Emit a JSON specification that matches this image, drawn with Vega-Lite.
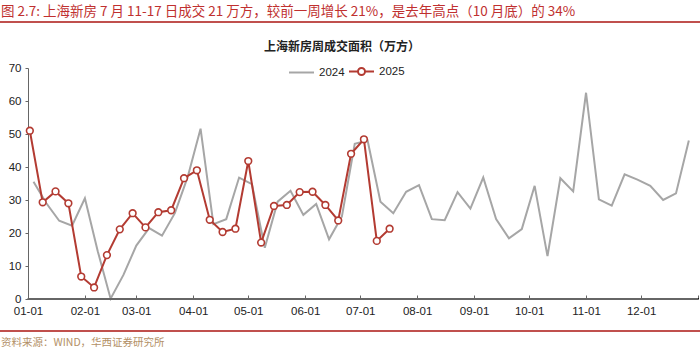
{
  "$schema": "https://vega.github.io/schema/vega-lite/v6.json",
  "padding": {"left": 0, "top": 3, "right": 0, "bottom": 0},
  "background": "white",
  "spacing": 13,
  "config": {
    "font": "Liberation Sans",
    "view": {"stroke": null},
    "title": {"font": "Noto Sans CJK SC"}
  },
  "datasets": {
    "weekly": [
      {"date": "2025-01-04", "series": "2024", "value": 35.5},
      {"date": "2025-01-11", "series": "2024", "value": 29.0},
      {"date": "2025-01-18", "series": "2024", "value": 23.7},
      {"date": "2025-01-25", "series": "2024", "value": 22.2},
      {"date": "2025-02-01", "series": "2024", "value": 30.5},
      {"date": "2025-02-08", "series": "2024", "value": 14.5},
      {"date": "2025-02-15", "series": "2024", "value": 0.1},
      {"date": "2025-02-22", "series": "2024", "value": 7.3},
      {"date": "2025-03-01", "series": "2024", "value": 16.2},
      {"date": "2025-03-08", "series": "2024", "value": 21.5},
      {"date": "2025-03-15", "series": "2024", "value": 19.2},
      {"date": "2025-03-22", "series": "2024", "value": 26.0},
      {"date": "2025-03-29", "series": "2024", "value": 37.0},
      {"date": "2025-04-05", "series": "2024", "value": 51.6},
      {"date": "2025-04-12", "series": "2024", "value": 22.7},
      {"date": "2025-04-19", "series": "2024", "value": 24.2},
      {"date": "2025-04-26", "series": "2024", "value": 36.8},
      {"date": "2025-05-03", "series": "2024", "value": 34.8},
      {"date": "2025-05-10", "series": "2024", "value": 15.5},
      {"date": "2025-05-17", "series": "2024", "value": 29.5},
      {"date": "2025-05-24", "series": "2024", "value": 32.8},
      {"date": "2025-05-31", "series": "2024", "value": 25.5},
      {"date": "2025-06-07", "series": "2024", "value": 28.8},
      {"date": "2025-06-14", "series": "2024", "value": 18.1},
      {"date": "2025-06-21", "series": "2024", "value": 25.0},
      {"date": "2025-06-28", "series": "2024", "value": 47.0},
      {"date": "2025-07-05", "series": "2024", "value": 48.0},
      {"date": "2025-07-12", "series": "2024", "value": 29.5},
      {"date": "2025-07-19", "series": "2024", "value": 26.0},
      {"date": "2025-07-26", "series": "2024", "value": 32.5},
      {"date": "2025-08-02", "series": "2024", "value": 34.5},
      {"date": "2025-08-09", "series": "2024", "value": 24.2},
      {"date": "2025-08-16", "series": "2024", "value": 23.9},
      {"date": "2025-08-23", "series": "2024", "value": 32.4},
      {"date": "2025-08-30", "series": "2024", "value": 27.4},
      {"date": "2025-09-06", "series": "2024", "value": 36.8},
      {"date": "2025-09-13", "series": "2024", "value": 24.2},
      {"date": "2025-09-20", "series": "2024", "value": 18.4},
      {"date": "2025-09-27", "series": "2024", "value": 21.2},
      {"date": "2025-10-04", "series": "2024", "value": 34.3},
      {"date": "2025-10-11", "series": "2024", "value": 13.0},
      {"date": "2025-10-18", "series": "2024", "value": 36.6},
      {"date": "2025-10-25", "series": "2024", "value": 32.6},
      {"date": "2025-11-01", "series": "2024", "value": 62.5},
      {"date": "2025-11-08", "series": "2024", "value": 30.2},
      {"date": "2025-11-15", "series": "2024", "value": 28.3},
      {"date": "2025-11-22", "series": "2024", "value": 37.8},
      {"date": "2025-11-29", "series": "2024", "value": 36.2},
      {"date": "2025-12-06", "series": "2024", "value": 34.3},
      {"date": "2025-12-13", "series": "2024", "value": 30.0},
      {"date": "2025-12-20", "series": "2024", "value": 32.0},
      {"date": "2025-12-27", "series": "2024", "value": 48.0},
      {"date": "2025-01-02", "series": "2025", "value": 51.0},
      {"date": "2025-01-09", "series": "2025", "value": 29.3},
      {"date": "2025-01-16", "series": "2025", "value": 32.6},
      {"date": "2025-01-23", "series": "2025", "value": 29.0},
      {"date": "2025-01-30", "series": "2025", "value": 6.8},
      {"date": "2025-02-06", "series": "2025", "value": 3.5},
      {"date": "2025-02-13", "series": "2025", "value": 13.3},
      {"date": "2025-02-20", "series": "2025", "value": 21.1},
      {"date": "2025-02-27", "series": "2025", "value": 26.0},
      {"date": "2025-03-06", "series": "2025", "value": 21.7},
      {"date": "2025-03-13", "series": "2025", "value": 26.3},
      {"date": "2025-03-20", "series": "2025", "value": 26.9},
      {"date": "2025-03-27", "series": "2025", "value": 36.6},
      {"date": "2025-04-03", "series": "2025", "value": 39.0},
      {"date": "2025-04-10", "series": "2025", "value": 24.0},
      {"date": "2025-04-17", "series": "2025", "value": 20.3},
      {"date": "2025-04-24", "series": "2025", "value": 21.3},
      {"date": "2025-05-01", "series": "2025", "value": 41.8},
      {"date": "2025-05-08", "series": "2025", "value": 17.1},
      {"date": "2025-05-15", "series": "2025", "value": 28.2},
      {"date": "2025-05-22", "series": "2025", "value": 28.5},
      {"date": "2025-05-29", "series": "2025", "value": 32.4},
      {"date": "2025-06-05", "series": "2025", "value": 32.5},
      {"date": "2025-06-12", "series": "2025", "value": 28.5},
      {"date": "2025-06-19", "series": "2025", "value": 23.8},
      {"date": "2025-06-26", "series": "2025", "value": 44.0},
      {"date": "2025-07-03", "series": "2025", "value": 48.4},
      {"date": "2025-07-10", "series": "2025", "value": 17.6},
      {"date": "2025-07-17", "series": "2025", "value": 21.3}
    ]
  },
  "vconcat": [
    {
      "width": 700,
      "height": 0.01,
      "data": {"values": [{}]},
      "mark": {"type": "point", "size": 0, "strokeWidth": 0, "opacity": 0},
      "view": {"stroke": "#c0504d", "strokeWidth": 2},
      "title": {
        "text": "图 2.7: 上海新房 7 月 11-17 日成交 21 万方，较前一周增长 21%，是去年高点（10 月底）的 34%",
        "anchor": "start",
        "frame": "group",
        "color": "#c0302f",
        "fontSize": 13.5,
        "fontWeight": "normal",
        "offset": 4
      }
    },
    {
      "width": 700,
      "height": 231,
      "data": {"name": "weekly"},
      "view": {"stroke": null},
      "title": {
        "text": [" ", "上海新房周成交面积（万方）"],
        "lineHeight": 4,
        "anchor": "middle",
        "frame": "group",
        "fontSize": 12,
        "fontWeight": "bold",
        "color": "#222222",
        "offset": 8,
        "dx": -9
      },
      "encoding": {
        "x": {
          "field": "date",
          "type": "temporal",
          "scale": {
            "type": "utc",
            "domain": [
              {"year": 2024, "month": 12, "date": 17, "hours": 7, "utc": true},
              {"year": 2026, "month": 1, "date": 2, "hours": 15, "utc": true}
            ]
          },
          "axis": {
            "title": null,
            "grid": false,
            "domain": false,
            "tickCount": {"interval": "month", "step": 1},
            "labelExpr": "utcyear(datum.value) > 2025 ? '' : utcFormat(datum.value, '%m-%d')",
            "labelFont": "Liberation Sans",
            "labelFontSize": 11.5,
            "labelColor": "#222222",
            "labelFlush": false,
            "labelOverlap": false,
            "labelPadding": 10,
            "tickSize": -4,
            "tickColor": "#666666"
          }
        },
        "y": {
          "field": "value",
          "type": "quantitative",
          "scale": {"domain": [0, 70], "nice": false},
          "axis": {
            "title": null,
            "grid": false,
            "offset": -27,
            "values": [0, 10, 20, 30, 40, 50, 60, 70],
            "labelFont": "Liberation Sans",
            "labelFontSize": 11.5,
            "labelColor": "#222222",
            "labelPadding": 4,
            "labelOverlap": false,
            "labelFlush": false,
            "tickSize": 3,
            "tickColor": "#666666",
            "domainColor": "#666666"
          }
        }
      },
      "layer": [
        {
          "mark": {"type": "line", "strokeWidth": 2},
          "encoding": {
            "color": {
              "field": "series",
              "type": "nominal",
              "scale": {"domain": ["2024", "2025"], "range": ["#a6a6a6", "#b33b32"]},
              "legend": {
                "title": null,
                "orient": "none",
                "legendX": 287,
                "legendY": 36,
                "direction": "horizontal",
                "symbolType": "stroke",
                "symbolSize": 625,
                "symbolStrokeWidth": 2,
                "labelFont": "Liberation Sans",
                "labelFontSize": 11.5,
                "labelColor": "#222222",
                "labelOffset": 4,
                "columnPadding": 0,
                "encode": {
                  "symbols": {
                    "update": {
                      "shape": [
                        {"test": "datum.value === '2025'", "value": "M-1,0L-0.28,0M0.28,0L1,0M-0.28,0A0.28,0.28 0 1,1 0.28,0A0.28,0.28 0 1,1 -0.28,0Z"},
                        {"value": "M-1,0L1,0"}
                      ],
                      "fill": [
                        {"test": "datum.value === '2025'", "value": "white"},
                        {"value": "transparent"}
                      ]
                    }
                  }
                }
              }
            }
          }
        },
        {
          "transform": [{"filter": "datum.series === '2025'"}],
          "mark": {
            "type": "point",
            "shape": "circle",
            "filled": true,
            "fill": "white",
            "stroke": "#b33b32",
            "strokeWidth": 1.6,
            "size": 45,
            "opacity": 1
          }
        },
        {
          "mark": {"type": "rule", "color": "#666666", "strokeWidth": 1},
          "encoding": {
            "x": {"datum": {"year": 2025, "month": 1, "date": 1, "utc": true}, "type": "temporal"},
            "x2": {"datum": {"year": 2026, "month": 1, "date": 1, "utc": true}},
            "y": {"datum": 0, "type": "quantitative"}
          }
        }
      ]
    },
    {
      "width": 700,
      "height": 0.01,
      "data": {"values": [{}]},
      "mark": {"type": "point", "size": 0, "strokeWidth": 0, "opacity": 0},
      "view": {"stroke": "#c0504d", "strokeWidth": 2},
      "title": {
        "text": "资料来源：WIND，华西证券研究所",
        "orient": "bottom",
        "anchor": "start",
        "frame": "group",
        "color": "#b39066",
        "fontSize": 10.5,
        "fontWeight": "normal",
        "offset": 7
      }
    }
  ]
}
